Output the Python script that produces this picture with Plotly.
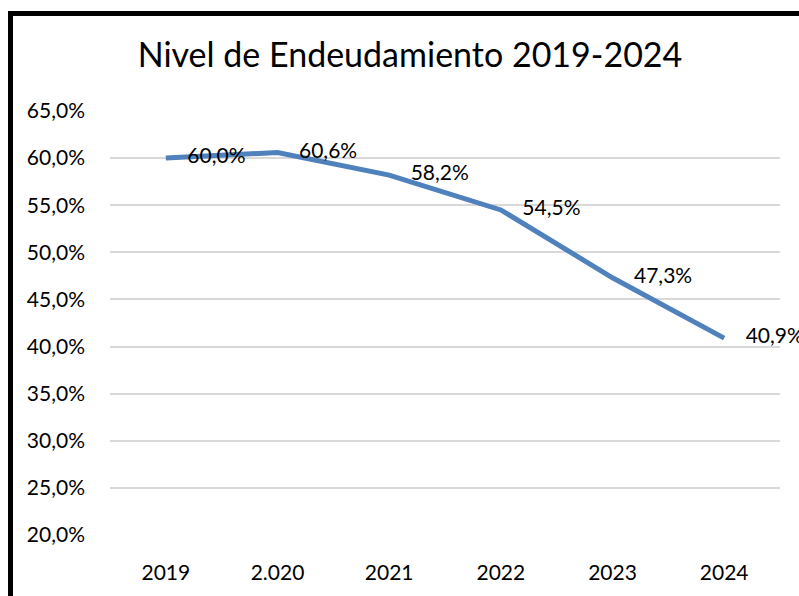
import plotly.graph_objects as go

categories = ["2019", "2.020", "2021", "2022", "2023", "2024"]
values = [60.0, 60.6, 58.2, 54.5, 47.3, 40.9]
labels = ["60,0%", "60,6%", "58,2%", "54,5%", "47,3%", "40,9%"]
y_ticks = [20, 25, 30, 35, 40, 45, 50, 55, 60, 65]
y_tick_labels = ["20,0%", "25,0%", "30,0%", "35,0%", "40,0%", "45,0%", "50,0%", "55,0%", "60,0%", "65,0%"]
title_text = "Nivel de Endeudamiento 2019-2024"

FONT = "Lato"
LINE_COLOR = "#4F81BD"

fig = go.Figure()
fig.add_trace(go.Scatter(
    x=categories, y=values, mode="lines+text",
    line=dict(color=LINE_COLOR, width=5),
    text=["    " + t for t in labels], textposition="middle right",
    textfont=dict(family=FONT, size=21, color="#000000"),
    cliponaxis=False, hoverinfo="skip", showlegend=False,
))

L, R, T, B = 110, 19, 111, 57
W, H = 799, 596

fig.update_layout(
    width=W, height=H,
    margin=dict(l=L, r=R, t=T, b=B, pad=0),
    paper_bgcolor="white", plot_bgcolor="white",
    font=dict(family=FONT, size=21, color="#000000"),
    title=dict(text=title_text, x=410 / W, xref="container", xanchor="center",
               y=1 - 55 / H, yref="container", yanchor="middle",
               font=dict(family=FONT, size=34, color="#000000")),
    xaxis=dict(type="category", range=[-0.5, len(categories) - 0.5],
               showgrid=False, zeroline=False, showline=False,
               ticks="", tickfont=dict(family=FONT, size=21), ticklabelstandoff=23,
               fixedrange=True),
    yaxis=dict(range=[20, 65], tickvals=y_ticks, ticktext=y_tick_labels,
               showgrid=True, gridcolor="#D9D9D9", gridwidth=1.5, zeroline=False,
               showline=False, ticks="", tickfont=dict(family=FONT, size=21),
               ticklabelstandoff=24, fixedrange=True),
)

# black chart border (partly outside the window on the right/bottom)
pw, ph = W - L - R, H - T - B
def px_x(p):
    return (p - L) / pw
def px_y(p):
    return (H - B - p) / ph
fig.add_shape(type="rect", xref="paper", yref="paper",
              x0=px_x(10.5), x1=px_x(W + 40), y0=px_y(H + 40), y1=px_y(12.5),
              line=dict(color="black", width=5), fillcolor="rgba(0,0,0,0)", layer="above")

fig.write_html("out.html", config={"displayModeBar": False},
               post_script="document.body.style.margin='0';document.body.style.overflow='hidden';")
